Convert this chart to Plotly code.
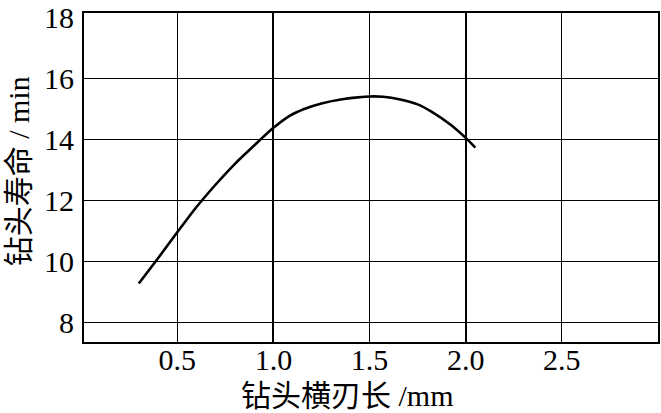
import plotly.graph_objects as go

# data
x_len = [0.30, 0.40, 0.50, 0.60, 0.70, 0.80, 0.90, 1.00, 1.08, 1.16, 1.25, 1.35,
         1.44, 1.50, 1.57, 1.66, 1.75, 1.83, 1.92, 2.00, 2.05]
life = [9.27, 10.10, 10.95, 11.78, 12.52, 13.20, 13.80, 14.38, 14.76, 15.00, 15.18, 15.31,
        15.38, 15.41, 15.40, 15.31, 15.15, 14.88, 14.49, 14.05, 13.73]

x_ticks = [0.5, 1.0, 1.5, 2.0, 2.5]
x_ticktext = ["0.5", "1.0", "1.5", "2.0", "2.5"]
x_major_grid = [1.0, 2.0]
y_ticks = [8, 10, 12, 14, 16, 18]
y_ticktext = ["8", "10", "12", "14", "16", "18"]
y_grid = [8, 10, 12, 14, 16]

x_title = "钻头横刃长 /mm"
y_title = "钻头寿命 / min"

x_range = [0.015, 3.0]
y_range = [7.35, 18.15]

serif = "Liberation Serif, Times New Roman, Noto Sans CJK SC, serif"

fig = go.Figure()
fig.add_trace(go.Scatter(x=x_len, y=life, mode="lines",
                         line=dict(color="black", width=2.6, shape="spline", smoothing=0.8),
                         hoverinfo="skip", showlegend=False))
# invisible copy carrying the overlay axes (extra grid lines)
fig.add_trace(go.Scatter(x=x_len, y=life, mode="lines", xaxis="x2", yaxis="y2",
                         line=dict(color="rgba(0,0,0,0)", width=0),
                         hoverinfo="skip", showlegend=False))

fig.update_layout(
    width=661, height=413, autosize=False,
    margin=dict(l=84, r=1, t=9, b=71),
    paper_bgcolor="white", plot_bgcolor="white",
    font=dict(family=serif, color="black"),
    xaxis=dict(range=x_range, tickvals=x_ticks, ticktext=x_ticktext,
               showgrid=True, gridcolor="black", gridwidth=1.1,
               zeroline=False, showline=True, linecolor="black", linewidth=2, mirror=True,
               ticks="", ticklabelstandoff=-10,
               tickfont=dict(family=serif, size=30, color="black")),
    yaxis=dict(range=y_range, tickvals=y_ticks, ticktext=y_ticktext,
               showgrid=False, zeroline=False,
               showline=True, linecolor="black", linewidth=2, mirror=True,
               ticks="", ticklabelstandoff=2, ticklabeloverflow="allow",
               tickfont=dict(family=serif, size=30, color="black")),
    xaxis2=dict(range=x_range, overlaying="x", anchor="y2", tickvals=x_major_grid,
                showgrid=True, gridcolor="black", gridwidth=2,
                showticklabels=False, zeroline=False, showline=False, ticks=""),
    yaxis2=dict(range=y_range, overlaying="y", anchor="x2", tickvals=y_grid,
                showgrid=True, gridcolor="black", gridwidth=1.4,
                showticklabels=False, zeroline=False, showline=False, ticks=""),
    annotations=[
        dict(text=x_title, xref="paper", yref="paper", x=(348 - 84) / 576, y=(413 - 396 - 71) / 333,
             xanchor="center", yanchor="middle", showarrow=False,
             font=dict(family=serif, size=30, color="black")),
        dict(text=y_title, xref="paper", yref="paper", x=(18 - 84) / 576, y=(342 - 169) / 333,
             xanchor="center", yanchor="middle", showarrow=False, textangle=-90,
             font=dict(family=serif, size=30, color="black")),
    ],
)

fig.write_html("out.html", config={"responsive": False, "displayModeBar": False},
               post_script="document.body.style.margin='0';document.body.style.overflow='hidden';")
